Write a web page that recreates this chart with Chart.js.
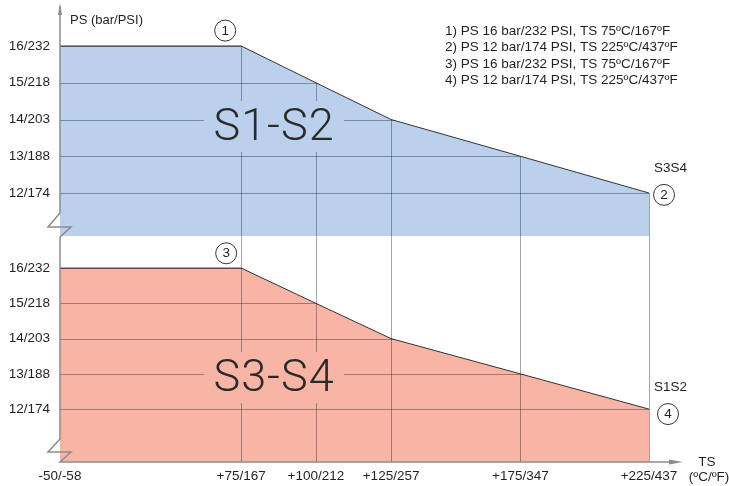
<!DOCTYPE html>
<html>
<head>
<meta charset="utf-8">
<title>PS / TS</title>
<script src="https://cdn.jsdelivr.net/npm/chart.js@4.4.1/dist/chart.umd.min.js"></script>
<style>
    html, body { margin: 0; padding: 0; background: #fff; }
    canvas { display: block; }
</style>
</head>
<body>
<canvas id="psChart" width="729" height="486"></canvas>
<script>
// ---- data ----
const tempTicks = [-50, 75, 100, 125, 175, 225];
const tempLabels = ['-50/-58', '+75/167', '+100/212', '+125/257', '+175/347', '+225/437'];
const psTicks = [12, 13, 14, 15, 16];
const psLabels = ['12/174', '13/188', '14/203', '15/218', '16/232'];
const curveTemps = [-50, 75, 100, 125, 175, 225];
const s1s2Ps = [16, 16, 15, 14, 13, 12];
const s3s4Ps = [16, 16, 15, 14, 13, 12];
const notes = [
    '1) PS 16 bar/232 PSI, TS 75ºC/167ºF',
    '2) PS 12 bar/174 PSI, TS 225ºC/437ºF',
    '3) PS 16 bar/232 PSI, TS 75ºC/167ºF',
    '4) PS 12 bar/174 PSI, TS 225ºC/437ºF'
];

const BLUE = '#bad0ec';
const RED = '#f8b5a5';
const AXIS = '#8c8c8c';
const INK = '#231f20';
const GRID = 'rgba(30, 30, 40, 0.4)';
const FONT = '"Liberation Sans", Arial, Helvetica, sans-serif';

// the TS axis is schematic: each tick sits at its own share of the width
const tickStops = [0, 0.3076, 0.4344, 0.5621, 0.7816, 1];

class SchematicScale extends Chart.LinearScale {
    getPixelForValue(value) {
        let i = 0;
        while (i < tempTicks.length - 2 && value > tempTicks[i + 1]) i++;
        const k = (value - tempTicks[i]) / (tempTicks[i + 1] - tempTicks[i]);
        return this.getPixelForDecimal(tickStops[i] + k * (tickStops[i + 1] - tickStops[i]));
    }
    getValueForPixel(pixel) {
        const d = this.getDecimalForPixel(pixel);
        let i = 0;
        while (i < tickStops.length - 2 && d > tickStops[i + 1]) i++;
        const k = (d - tickStops[i]) / (tickStops[i + 1] - tickStops[i]);
        return tempTicks[i] + k * (tempTicks[i + 1] - tempTicks[i]);
    }
}
SchematicScale.id = 'schematic';
SchematicScale.defaults = Chart.LinearScale.defaults;
Chart.register(SchematicScale);

Chart.defaults.font.family = FONT;
Chart.defaults.font.size = 13.5;
Chart.defaults.color = INK;

function points(ps) {
    return curveTemps.map((t, i) => ({ x: t, y: ps[i] }));
}

function psAxis(min, max) {
    return {
        type: 'linear',
        position: 'left',
        stack: 'ps',
        stackWeight: 1,
        min: min,
        max: max,
        grid: { display: false, drawTicks: false },
        border: { display: false },
        ticks: { padding: 10, callback: (v, i) => psLabels[i] },
        afterBuildTicks: (scale) => { scale.ticks = psTicks.map(v => ({ value: v })); },
        afterFit: (scale) => {
            scale.width = 50;
            scale.paddingTop = 0;
            scale.paddingBottom = 0;
        }
    };
}

function circled(ctx, x, y, label) {
    ctx.beginPath();
    ctx.arc(x, y, 10.5, 0, Math.PI * 2);
    ctx.lineWidth = 1;
    ctx.strokeStyle = '#333';
    ctx.fillStyle = '#fff';
    ctx.fill();
    ctx.stroke();
    ctx.fillStyle = INK;
    ctx.font = '13.5px ' + FONT;
    ctx.textAlign = 'center';
    ctx.textBaseline = 'middle';
    ctx.fillText(label, x, y + 0.5);
}

const panelGrid = {
    id: 'panelGrid',
    afterDatasetsDraw(chart) {
        const { ctx, chartArea, scales } = chart;
        const xs = scales.x;

        // horizontal lines, only inside each filled region
        [['yTop', 0], ['yBot', 1]].forEach(([id, di]) => {
            const ys = scales[id];
            const pts = chart.getDatasetMeta(di).data;
            ctx.save();
            ctx.beginPath();
            ctx.moveTo(pts[0].x, ys.bottom);
            pts.forEach(p => ctx.lineTo(p.x, p.y));
            ctx.lineTo(pts[pts.length - 1].x, ys.bottom);
            ctx.closePath();
            ctx.clip();
            ctx.strokeStyle = GRID;
            ctx.lineWidth = 1;
            ys.ticks.forEach(t => {
                const py = Math.round(ys.getPixelForValue(t.value)) + 0.5;
                ctx.beginPath();
                ctx.moveTo(chartArea.left, py);
                ctx.lineTo(chartArea.right + 1, py);
                ctx.stroke();
            });
            ctx.restore();
        });

        // vertical lines, from the upper curve down to the TS axis
        const top = chart.getDatasetMeta(0).data;
        ctx.save();
        ctx.strokeStyle = GRID;
        ctx.lineWidth = 1;
        xs.ticks.forEach(t => {
            if (t.value === tempTicks[0]) return;
            const idx = curveTemps.indexOf(t.value);
            const px = Math.round(xs.getPixelForValue(t.value)) + 0.5;
            ctx.beginPath();
            ctx.moveTo(px, top[idx].y);
            ctx.lineTo(px, chartArea.bottom);
            ctx.stroke();
        });
        ctx.restore();

        // big region names, on a knock-out of their fill colour
        [['S1-S2', 'yTop', 13.77, BLUE], ['S3-S4', 'yBot', 12.85, RED]].forEach(([txt, id, v, bg]) => {
            const cx = xs.getPixelForValue(86);
            const cy = scales[id].getPixelForValue(v);
            ctx.save();
            ctx.fillStyle = bg;
            ctx.fillRect(cx - 70, cy - 27, 140, 51);
            ctx.fillStyle = '#2a2a2a';
            ctx.font = '300 45px Roboto, ' + FONT;
            ctx.letterSpacing = '1px';
            ctx.textAlign = 'center';
            ctx.textBaseline = 'middle';
            ctx.fillText(txt, cx, cy + 1);
            ctx.restore();
        });
    },
    afterDraw(chart) {
        const { ctx, chartArea, scales } = chart;
        const xs = scales.x;
        const L = chartArea.left;
        const B = chartArea.bottom;
        const brk = scales.yTop.bottom;

        // axes with break marks
        ctx.save();
        ctx.strokeStyle = AXIS;
        ctx.lineWidth = 1.5;
        ctx.lineJoin = 'miter';
        ctx.beginPath();
        ctx.moveTo(L, 6);
        ctx.lineTo(L, brk - 23);
        ctx.lineTo(L - 12, brk - 9);
        ctx.lineTo(L + 11, brk - 9);
        ctx.lineTo(L, brk + 1);
        ctx.lineTo(L, B - 23);
        ctx.lineTo(L - 12, B - 10);
        ctx.lineTo(L + 11, B - 10);
        ctx.lineTo(L, B);
        ctx.lineTo(chartArea.right + 26, B);
        ctx.stroke();
        ctx.fillStyle = AXIS;
        ctx.beginPath();
        ctx.moveTo(L, 3);
        ctx.lineTo(L - 2, 15);
        ctx.lineTo(L + 2, 15);
        ctx.closePath();
        ctx.fill();
        ctx.beginPath();
        ctx.moveTo(chartArea.right + 34, B);
        ctx.lineTo(chartArea.right + 20, B - 2.5);
        ctx.lineTo(chartArea.right + 20, B + 2.5);
        ctx.closePath();
        ctx.fill();
        ctx.restore();

        ctx.save();
        ctx.fillStyle = INK;
        ctx.font = '13px ' + FONT;
        ctx.textBaseline = 'middle';
        ctx.textAlign = 'left';
        ctx.fillText('PS (bar/PSI)', L + 10, 20);
        ctx.font = '13.5px ' + FONT;
        notes.forEach((n, i) => ctx.fillText(n, 445, 31 + i * 16.5));

        const xEnd = xs.getPixelForValue(tempTicks[tempTicks.length - 1]);
        ctx.fillText('S3S4', xEnd + 5, scales.yTop.getPixelForValue(12.66));
        ctx.fillText('S1S2', xEnd + 5, scales.yBot.getPixelForValue(12.63));
        ctx.textAlign = 'center';
        ctx.fillText('TS', chartArea.right + 58, B);
        ctx.fillText('(ºC/ºF)', chartArea.right + 60, B + 15);
        ctx.restore();

        const x75 = xs.getPixelForValue(75);
        circled(ctx, x75 - 16, scales.yTop.getPixelForValue(16.42), '1');
        circled(ctx, xEnd + 15, scales.yTop.getPixelForValue(11.95), '2');
        circled(ctx, x75 - 15, scales.yBot.getPixelForValue(16.42), '3');
        circled(ctx, xEnd + 19, scales.yBot.getPixelForValue(11.86), '4');
    }
};

new Chart(document.getElementById('psChart'), {
    type: 'line',
    data: {
        datasets: [
            {
                label: 'S1-S2',
                data: points(s1s2Ps),
                yAxisID: 'yTop',
                borderColor: '#333',
                borderWidth: 1,
                backgroundColor: BLUE,
                fill: 'start',
                pointRadius: 0,
                tension: 0
            },
            {
                label: 'S3-S4',
                data: points(s3s4Ps),
                yAxisID: 'yBot',
                borderColor: '#333',
                borderWidth: 1,
                backgroundColor: RED,
                fill: 'start',
                pointRadius: 0,
                tension: 0
            }
        ]
    },
    options: {
        responsive: false,
        devicePixelRatio: 1,
        animation: false,
        layout: { padding: { left: 10, right: 80, top: 10, bottom: 4 } },
        plugins: {
            legend: { display: false },
            tooltip: { enabled: false }
        },
        scales: {
            x: {
                type: 'schematic',
                min: -50,
                max: 225,
                grid: { display: false, drawTicks: false },
                border: { display: false },
                ticks: { padding: 6, maxRotation: 0, autoSkip: false, callback: (v, i) => tempLabels[i] },
                afterBuildTicks: (scale) => { scale.ticks = tempTicks.map(v => ({ value: v })); },
                afterFit: (scale) => { scale.height = 20; }
            },
            // stacked axes are placed bottom-up in declaration order
            yBot: psAxis(10.5, 16.91),
            yTop: psAxis(10.83, 16.98)
        }
    },
    plugins: [panelGrid]
});
</script>
</body>
</html>
